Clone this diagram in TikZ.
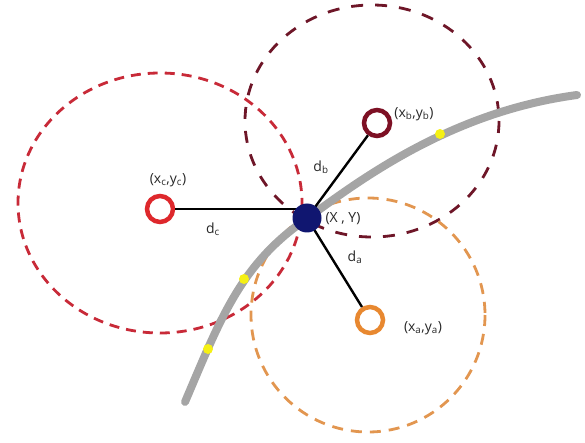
\documentclass[tikz,border=0pt]{standalone}
\usepackage{fontspec}
\setmainfont{Open Sans}
\definecolor{cred}{RGB}{222,40,44}
\definecolor{cdred}{RGB}{200,42,56}
\definecolor{bmar}{RGB}{125,16,36}
\definecolor{bdmar}{RGB}{110,22,40}
\definecolor{aor}{RGB}{232,136,48}
\definecolor{adOr}{RGB}{226,150,80}
\definecolor{navy}{RGB}{16,22,112}
\definecolor{road}{RGB}{165,165,165}
\definecolor{ylw}{RGB}{245,240,20}
\definecolor{txt}{RGB}{40,40,40}
\begin{document}
\begin{tikzpicture}[x=1pt,y=-1pt,
  ring/.style={circle, draw, line width=4.5pt, fill=white, minimum size=26pt, inner sep=0pt},
  lbl/.style={font=\fontsize{14}{16}\selectfont, text=txt, inner sep=0pt},
  conn/.style={draw=black, line width=2.4pt},
  dashring/.style={line width=2.8pt, dash pattern=on 10pt off 7pt},
  pin/.style={circle, fill=ylw, minimum size=10pt, inner sep=0pt}]
\useasboundingbox (0,0) rectangle (585,443);
% range circles
\draw[dashring, cdred] (160,203) ellipse [x radius=142, y radius=130];
\draw[dashring, bdmar, dash pattern=on 12pt off 12pt] (372,121) ellipse [x radius=127, y radius=116];
\draw[dashring, adOr, dash pattern=on 11pt off 8pt] (368,315) ellipse [x radius=117, y radius=117];
% road
\draw[road, line width=8pt, line cap=round] (185,402) .. controls (220,320) and (240,265) .. (305,220)
  .. controls (360,180) and (450,112) .. (577,95);
\node[pin] (p1) at (208,349) {};
\node[pin] (p2) at (244,279) {};
\node[pin] (p3) at (440,134) {};
% anchors
\coordinate (xyc) at (307,218);
\node[ring, draw=cred] (c) at (160,209) {};
\node[ring, draw=bmar] (b) at (377,123) {};
\node[ring, draw=aor] (a) at (370,320) {};
% distances
\draw[conn] (c.east) -- (c.east -| xyc);
\draw[conn] (xyc) -- (b);
\draw[conn] (xyc) -- (a);
\node[circle, fill=navy, minimum size=29pt, inner sep=0pt] (xy) at (xyc) {};
% labels
\node[lbl] (lc) at (168,180) {(x\textsubscript{c},y\textsubscript{c})};
\node[lbl] (ldc) at (213,229) {d\textsubscript{c}};
\node[lbl] (ldb) at (321,167) {d\textsubscript{b}};
\node[lbl] (lb) at (414,114) {(x\textsubscript{b},y\textsubscript{b})};
\node[lbl] (lxy) at (343,219) {(X , Y)};
\node[lbl] (lda) at (355,257) {d\textsubscript{a}};
\node[lbl] (la) at (423,328) {(x\textsubscript{a},y\textsubscript{a})};
\end{tikzpicture}
\end{document}
